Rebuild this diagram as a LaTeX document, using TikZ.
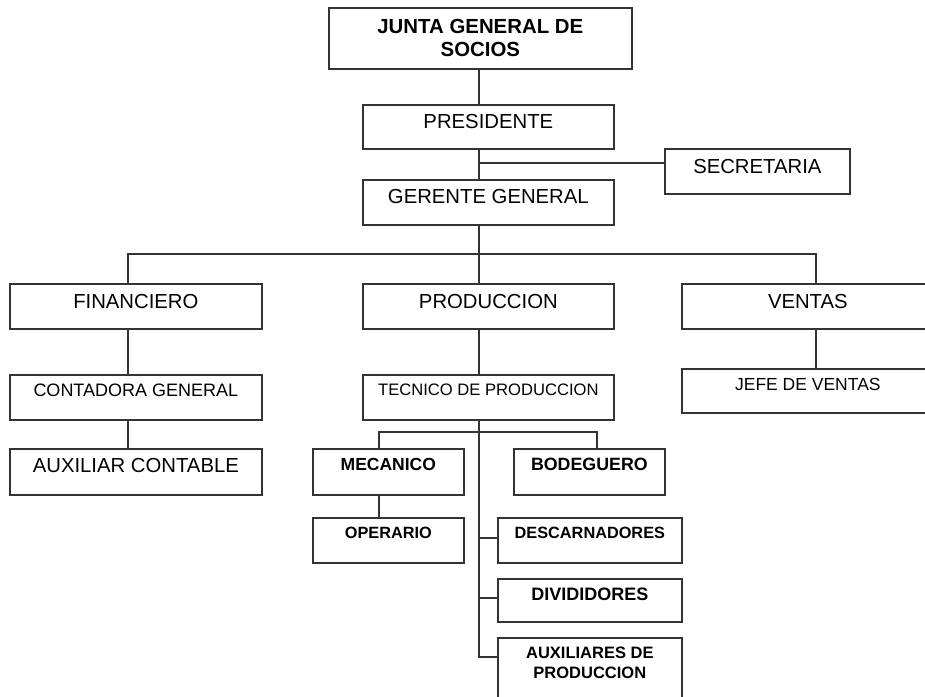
\documentclass[tikz,border=0pt]{standalone}
\usepackage{fontspec}
\setmainfont{Liberation Sans}
\newcommand{\fs}[1]{\fontsize{#1}{23}\selectfont}
\begin{document}
\begin{tikzpicture}[x=1pt,y=-1pt,
  bx/.style={draw=black!80, line width=1.7pt, fill=white, inner sep=0pt, anchor=north west},
  ln/.style={draw=black!80, line width=1.7pt},
]
\fill[white] (0,0) rectangle (925,696);
\useasboundingbox (0,0) rectangle (925,696);
\clip (0,0) rectangle (925,696);

% top of the hierarchy
\node[bx, minimum width=303pt, minimum height=61pt, text height=25.3pt, text depth=35.7pt,
      font=\fs{20.4}\bfseries] (junta) at (328,7)
  {\begin{tabular}[t]{@{}c@{}}JUNTA GENERAL DE\\SOCIOS\end{tabular}};
\node[bx, minimum width=251pt, minimum height=44pt, text height=23.3pt, text depth=20.7pt,
      font=\fs{20.3}] (pres) at (362,104) {PRESIDENTE};
\node[bx, minimum width=251pt, minimum height=45pt, text height=23.3pt, text depth=21.7pt,
      font=\fs{20.3}] (ger) at (362,179) {GERENTE GENERAL};
\node[bx, minimum width=185pt, minimum height=45pt, text height=24.3pt, text depth=20.7pt,
      font=\fs{20.3}] (secr) at (664,148) {SECRETARIA};

% departments
\node[bx, minimum width=252pt, minimum height=45pt, text height=24.3pt, text depth=20.7pt,
      font=\fs{20.3}] (fin) at (9,283) {FINANCIERO};
\node[bx, minimum width=251pt, minimum height=45pt, text height=24.3pt, text depth=20.7pt,
      font=\fs{20.3}] (prod) at (362,283) {PRODUCCION};
\node[bx, minimum width=252pt, minimum height=45pt, text height=24.3pt, text depth=20.7pt,
      font=\fs{20.3}] (ven) at (681,283) {VENTAS};

% finance branch
\node[bx, minimum width=252pt, minimum height=45pt, text height=21.5pt, text depth=23.5pt,
      font=\fs{18}] (cont) at (9,374) {CONTADORA GENERAL};
\node[bx, minimum width=252pt, minimum height=46pt, text height=23.3pt, text depth=22.7pt,
      font=\fs{20.3}] (aux) at (9,448) {AUXILIAR CONTABLE};

% sales branch
\node[bx, minimum width=252pt, minimum height=44pt, text height=21.3pt, text depth=22.7pt,
      font=\fs{17.5}] (jefe) at (681,368) {JEFE DE VENTAS};

% production branch
\node[bx, minimum width=251pt, minimum height=45pt, text height=21pt, text depth=24pt,
      font=\fs{16.6}] (tec) at (362,374) {TECNICO DE PRODUCCION};
\node[bx, minimum width=151pt, minimum height=46pt, text height=22.1pt, text depth=23.9pt,
      font=\fs{17.5}\bfseries] (mec) at (312,448) {MECANICO};
\node[bx, minimum width=151pt, minimum height=46pt, text height=22.1pt, text depth=23.9pt,
      font=\fs{17.8}\bfseries] (bod) at (513,448) {BODEGUERO};
\node[bx, minimum width=151pt, minimum height=45pt, text height=20.8pt, text depth=24.2pt,
      font=\fs{16.3}\bfseries] (oper) at (312,517) {OPERARIO};
\node[bx, minimum width=184pt, minimum height=45pt, text height=20.8pt, text depth=24.2pt,
      font=\fs{16.3}\bfseries] (desc) at (497,517) {DESCARNADORES};
\node[bx, minimum width=184pt, minimum height=43pt, text height=21.5pt, text depth=21.5pt,
      font=\fs{18}\bfseries] (divi) at (497,578) {DIVIDIDORES};
\node[bx, minimum width=184pt, minimum height=63pt, text height=21pt, text depth=42pt,
      font=\fontsize{16.5}{20}\selectfont\bfseries] (auxp) at (497,637)
  {\begin{tabular}[t]{@{}c@{}}AUXILIARES DE\\PRODUCCION\end{tabular}};

% connector guides
\coordinate (spine) at (479,0);
\coordinate (finx) at (128,0);
\coordinate (venx) at (816,0);
\coordinate (secj) at (479,163);
\coordinate (bus) at (479,254);
\coordinate (mecx) at (379,432);
\coordinate (bodx) at (597,432);
\coordinate (s1) at (479,538);
\coordinate (s2) at (479,598);
\coordinate (s3) at (479,657);

% connectors
\draw[ln] (spine |- junta.south) -- (spine |- pres.north);
\draw[ln] (spine |- pres.south) -- (spine |- ger.north);
\draw[ln] (secj) -- (secj -| secr.west);
\draw[ln] (spine |- ger.south) -- (bus);
\draw[ln] (finx |- fin.north) -- (finx |- bus) -- (venx |- bus) -- (venx |- ven.north);
\draw[ln] (bus) -- (spine |- prod.north);
\draw[ln] (finx |- fin.south) -- (finx |- cont.north);
\draw[ln] (finx |- cont.south) -- (finx |- aux.north);
\draw[ln] (spine |- prod.south) -- (spine |- tec.north);
\draw[ln] (venx |- ven.south) -- (venx |- jefe.north);
\draw[ln] (mecx |- mec.north) -- (mecx) -- (bodx) -- (bodx |- bod.north);
\draw[ln] (mecx |- mec.south) -- (mecx |- oper.north);
\draw[ln] (spine |- tec.south) -- (s3) -- (s3 -| auxp.west);
\draw[ln] (s1) -- (s1 -| desc.west);
\draw[ln] (s2) -- (s2 -| divi.west);
\end{tikzpicture}
\end{document}
